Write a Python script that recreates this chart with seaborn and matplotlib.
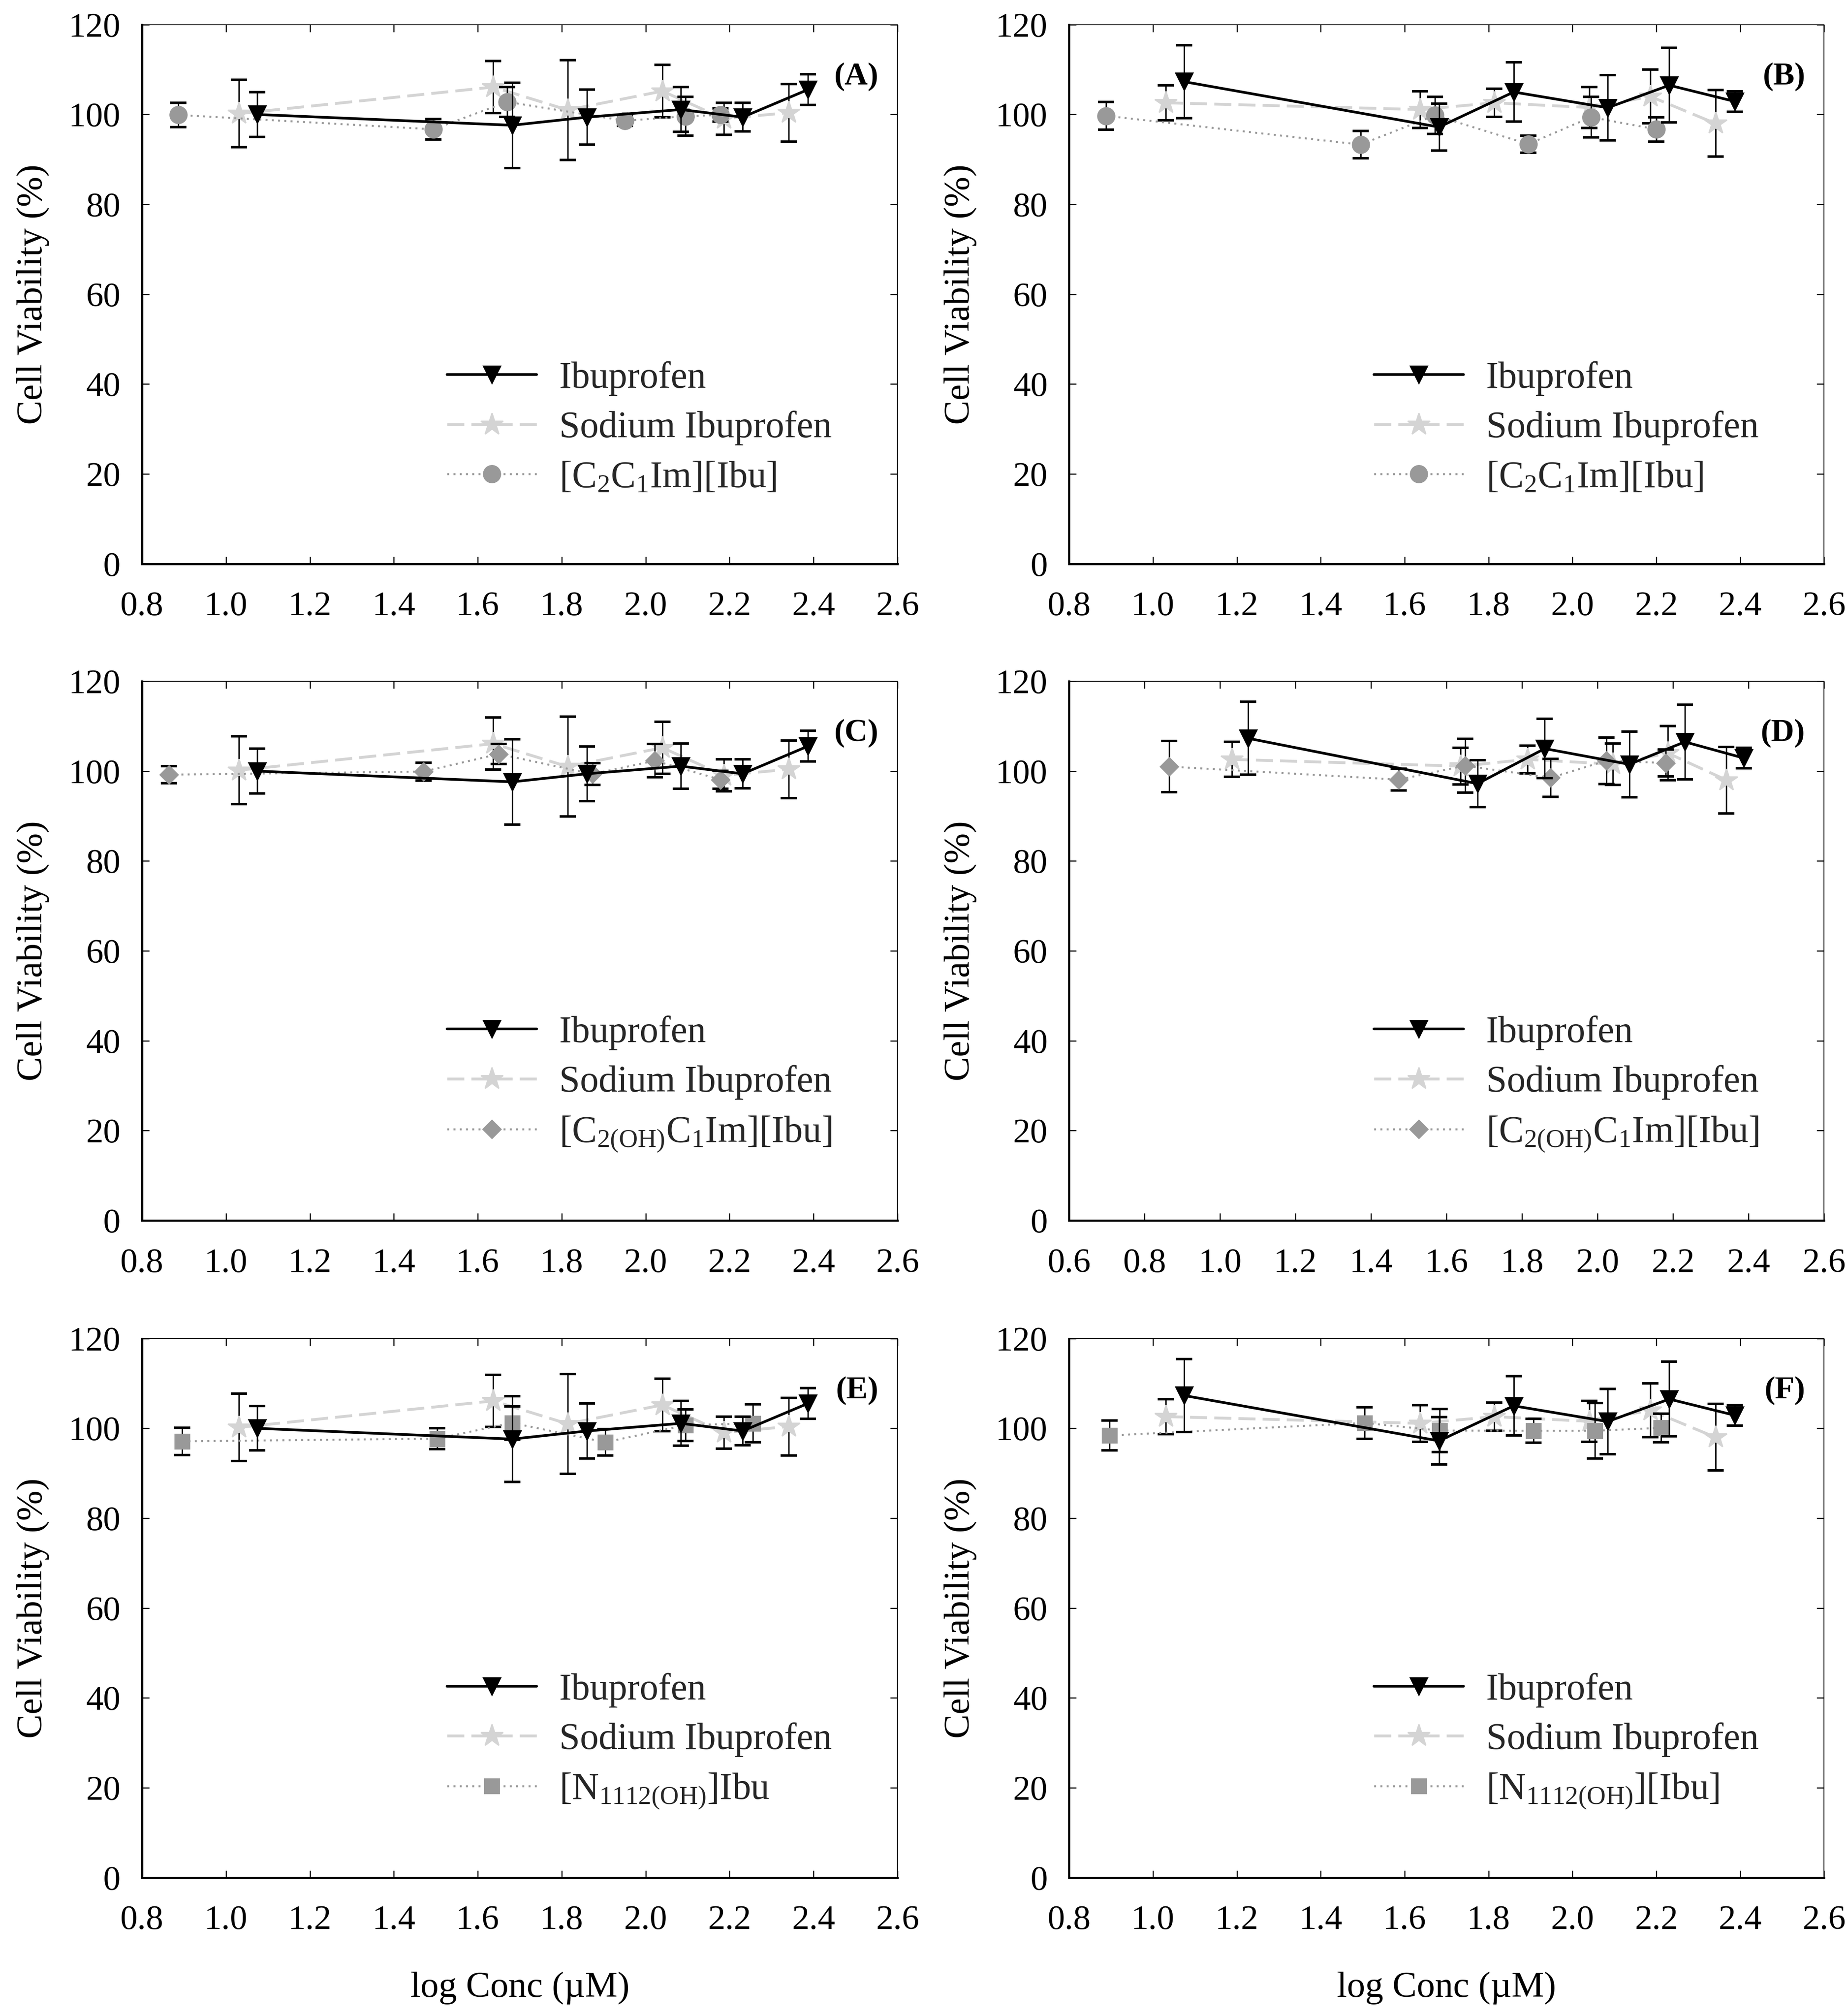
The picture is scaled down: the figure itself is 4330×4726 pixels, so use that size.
import matplotlib
matplotlib.use("Agg")
import matplotlib.pyplot as plt
import numpy as np
import pandas as pd
import seaborn as sns

# ---------------- data ----------------
ibu_x = [1.074, 1.682, 1.860, 2.084, 2.231, 2.387]
na_x = [1.031, 1.637, 1.814, 2.040, 2.186, 2.341]

# left column (A, C, E)
ibu_left_y = [100.0, 97.6, 99.4, 101.1, 99.4, 105.55]
ibu_left_err = [4.95, 9.5, 6.1, 5.0, 3.2, 3.4]
na_left_y = [100.2, 106.1, 101.0, 105.2, 99.05, 100.4]
na_left_err = [7.5, 5.8, 11.1, 5.8, 3.56, 6.4]

# right column (B, D, F)
ibu_right_y = [107.3, 97.2, 105.0, 101.5, 106.5, 102.9]
ibu_right_err = [8.1, 5.25, 6.6, 7.3, 8.3, 2.3]
na_right_y = [102.6, 101.1, 102.6, 101.55, 104.0, 98.0]
na_right_err = [3.9, 4.1, 3.1, 4.6, 6.0, 7.4]

# ionic liquids
c2_a_x = [0.886, 1.494, 1.670, 1.951, 2.095, 2.178]
c2_a_y = [99.9, 96.7, 102.8, 98.6, 99.6, 99.9]
c2_a_err = [2.7, 2.3, 3.3, 1.1, 4.3, 1.5]

c2_b_x = [0.888, 1.495, 1.672, 1.895, 2.044, 2.200]
c2_b_y = [99.7, 93.3, 99.8, 93.4, 99.4, 96.7]
c2_b_err = [3.1, 3.0, 4.15, 1.9, 4.5, 2.7]

c2oh_c_x = [0.864, 1.471, 1.650, 1.873, 2.022, 2.178]
c2oh_c_y = [99.2, 99.9, 103.8, 99.35, 102.3, 98.1]
c2oh_c_err = [1.9, 2.0, 2.2, 2.4, 3.7, 2.0]

c2oh_d_x = [0.865, 1.473, 1.649, 1.875, 2.023, 2.181]
c2oh_d_y = [101.0, 98.1, 101.2, 98.5, 102.3, 101.8]
c2oh_d_err = [5.66, 2.45, 6.0, 4.2, 5.2, 3.0]

n_e_x = [0.896, 1.503, 1.682, 1.904, 2.095, 2.256]
n_e_y = [97.1, 97.7, 101.2, 96.9, 100.7, 101.1]
n_e_err = [3.05, 2.34, 3.7, 2.9, 3.5, 4.2]

n_f_x = [0.896, 1.504, 1.683, 1.907, 2.054, 2.211]
n_f_y = [98.4, 101.2, 99.5, 99.45, 99.45, 100.1]
n_f_err = [3.3, 3.5, 4.8, 2.67, 6.15, 3.2]

lbl_c2 = r"[C$_{\mathrm{2}}$C$_{\mathrm{1}}$Im][Ibu]"
lbl_c2oh = r"[C$_{\mathrm{2(OH)}}$C$_{\mathrm{1}}$Im][Ibu]"
lbl_n_e = r"[N$_{\mathrm{1112(OH)}}$]Ibu"
lbl_n_f = r"[N$_{\mathrm{1112(OH)}}$][Ibu]"

x_ticks_std = [0.8, 1.0, 1.2, 1.4, 1.6, 1.8, 2.0, 2.2, 2.4, 2.6]
x_ticks_d = [0.6, 0.8, 1.0, 1.2, 1.4, 1.6, 1.8, 2.0, 2.2, 2.4, 2.6]
y_ticks = [0, 20, 40, 60, 80, 100, 120]

# ---------------- style ----------------
sns.set_theme(style="ticks")
plt.rcParams["font.family"] = ["Liberation Serif", "DejaVu Serif"]
plt.rcParams["mathtext.fontset"] = "custom"
plt.rcParams["mathtext.rm"] = "Liberation Serif"
plt.rcParams["mathtext.it"] = "Liberation Serif:italic"
plt.rcParams["mathtext.bf"] = "Liberation Serif:bold"

BLACK = "#000000"
LIGHT = "#d4d4d4"
GRAY = "#999999"

fig = plt.figure(figsize=(4330 / 300, 4726 / 300), dpi=300)

left_x0, left_w = 0.0769, 0.409
right_x0, right_w = 0.5788, 0.4088
row_bottoms = [0.7203, 0.3946, 0.0686]
row_h = 0.2675

panels = [
    ("(A)", 0, 0, [0.8, 2.6], x_ticks_std, ibu_left_y, ibu_left_err, na_left_y, na_left_err,
     c2_a_x, c2_a_y, c2_a_err, lbl_c2, "o", 9.5),
    ("(B)", 0, 1, [0.8, 2.6], x_ticks_std, ibu_right_y, ibu_right_err, na_right_y, na_right_err,
     c2_b_x, c2_b_y, c2_b_err, lbl_c2, "o", 9.5),
    ("(C)", 1, 0, [0.8, 2.6], x_ticks_std, ibu_left_y, ibu_left_err, na_left_y, na_left_err,
     c2oh_c_x, c2oh_c_y, c2oh_c_err, lbl_c2oh, "D", 7.0),
    ("(D)", 1, 1, [0.6, 2.6], x_ticks_d, ibu_right_y, ibu_right_err, na_right_y, na_right_err,
     c2oh_d_x, c2oh_d_y, c2oh_d_err, lbl_c2oh, "D", 7.0),
    ("(E)", 2, 0, [0.8, 2.6], x_ticks_std, ibu_left_y, ibu_left_err, na_left_y, na_left_err,
     n_e_x, n_e_y, n_e_err, lbl_n_e, "s", 8.0),
    ("(F)", 2, 1, [0.8, 2.6], x_ticks_std, ibu_right_y, ibu_right_err, na_right_y, na_right_err,
     n_f_x, n_f_y, n_f_err, lbl_n_f, "s", 8.0),
]

err_kw = dict(fmt="none", ecolor=BLACK, elinewidth=0.8, capsize=4.5, capthick=1.4)

for (tag, r, c, xlim, xticks, iy, ie, ny, ne, lx, ly, le, llabel, lmark, lms) in panels:
    x0 = left_x0 if c == 0 else right_x0
    w = left_w if c == 0 else right_w
    ax = fig.add_axes([x0, row_bottoms[r], w, row_h])

    df_ibu = pd.DataFrame({"x": ibu_x, "y": iy})
    df_na = pd.DataFrame({"x": na_x, "y": ny})
    df_il = pd.DataFrame({"x": lx, "y": ly})

    # Sodium ibuprofen (bottom layer)
    ax.errorbar(na_x, ny, yerr=ne, zorder=2, **err_kw)
    sns.lineplot(data=df_na, x="x", y="y", ax=ax, estimator=None, sort=False,
                 color=LIGHT, linestyle=(0, (6, 2.5)), linewidth=1.6,
                 marker="*", markersize=13, markeredgecolor=LIGHT,
                 markerfacecolor=LIGHT, label="Sodium Ibuprofen", zorder=3)
    # ionic liquid
    ax.errorbar(lx, ly, yerr=le, zorder=4, **err_kw)
    sns.lineplot(data=df_il, x="x", y="y", ax=ax, estimator=None, sort=False,
                 color=GRAY, linestyle=(0, (1, 2.2)), linewidth=1.1,
                 marker=lmark, markersize=lms, markeredgecolor=GRAY,
                 markerfacecolor=GRAY, label=llabel, zorder=5)
    # Ibuprofen (top)
    ax.errorbar(ibu_x, iy, yerr=ie, zorder=6, **err_kw)
    sns.lineplot(data=df_ibu, x="x", y="y", ax=ax, estimator=None, sort=False,
                 color=BLACK, linestyle="-", linewidth=1.5,
                 marker="v", markersize=9.5, markeredgecolor=BLACK,
                 markerfacecolor=BLACK, label="Ibuprofen", zorder=7)

    ax.set_xlim(*xlim)
    ax.set_ylim(0, 120)
    ax.set_xticks(xticks)
    ax.set_xticklabels([f"{t:.1f}" for t in xticks])
    ax.set_yticks(y_ticks)
    ax.set_yticklabels([str(t) for t in y_ticks])
    ax.tick_params(axis="both", which="major", direction="in", length=4, width=0.6,
                   top=True, right=True, labelsize=19.5, colors=BLACK)
    ax.tick_params(axis="x", pad=15.5)
    ax.tick_params(axis="y", pad=12)
    for s in ["left", "bottom"]:
        ax.spines[s].set_linewidth(1.2)
        ax.spines[s].set_color(BLACK)
    for s in ["top", "right"]:
        ax.spines[s].set_linewidth(0.5)
        ax.spines[s].set_color(BLACK)

    ax.set_ylabel("Cell Viability (%)", fontsize=20.5, color=BLACK)
    ax.yaxis.label.set_va("center")
    ax.yaxis.set_label_coords(-0.144, 0.5)
    if r == 2:
        ax.set_xlabel("log Conc (\u00b5M)", fontsize=20.5, color=BLACK)
        ax.xaxis.label.set_va("center")
        ax.xaxis.set_label_coords(0.5, -0.205)
    else:
        ax.set_xlabel("")

    ax.text(0.975, 0.903, tag, transform=ax.transAxes, ha="right", va="center",
            fontsize=18, fontweight="bold", color=BLACK)

    handles, labels = ax.get_legend_handles_labels()
    order = [labels.index("Ibuprofen"), labels.index("Sodium Ibuprofen"), labels.index(llabel)]
    ax.legend([handles[i] for i in order], [labels[i] for i in order],
              loc="center left", bbox_to_anchor=(0.404, 0.252), frameon=False,
              fontsize=21, borderpad=0, borderaxespad=0, handlelength=2.4,
              handletextpad=0.6, labelspacing=0.4)

fig.savefig("out.png", dpi=300)
